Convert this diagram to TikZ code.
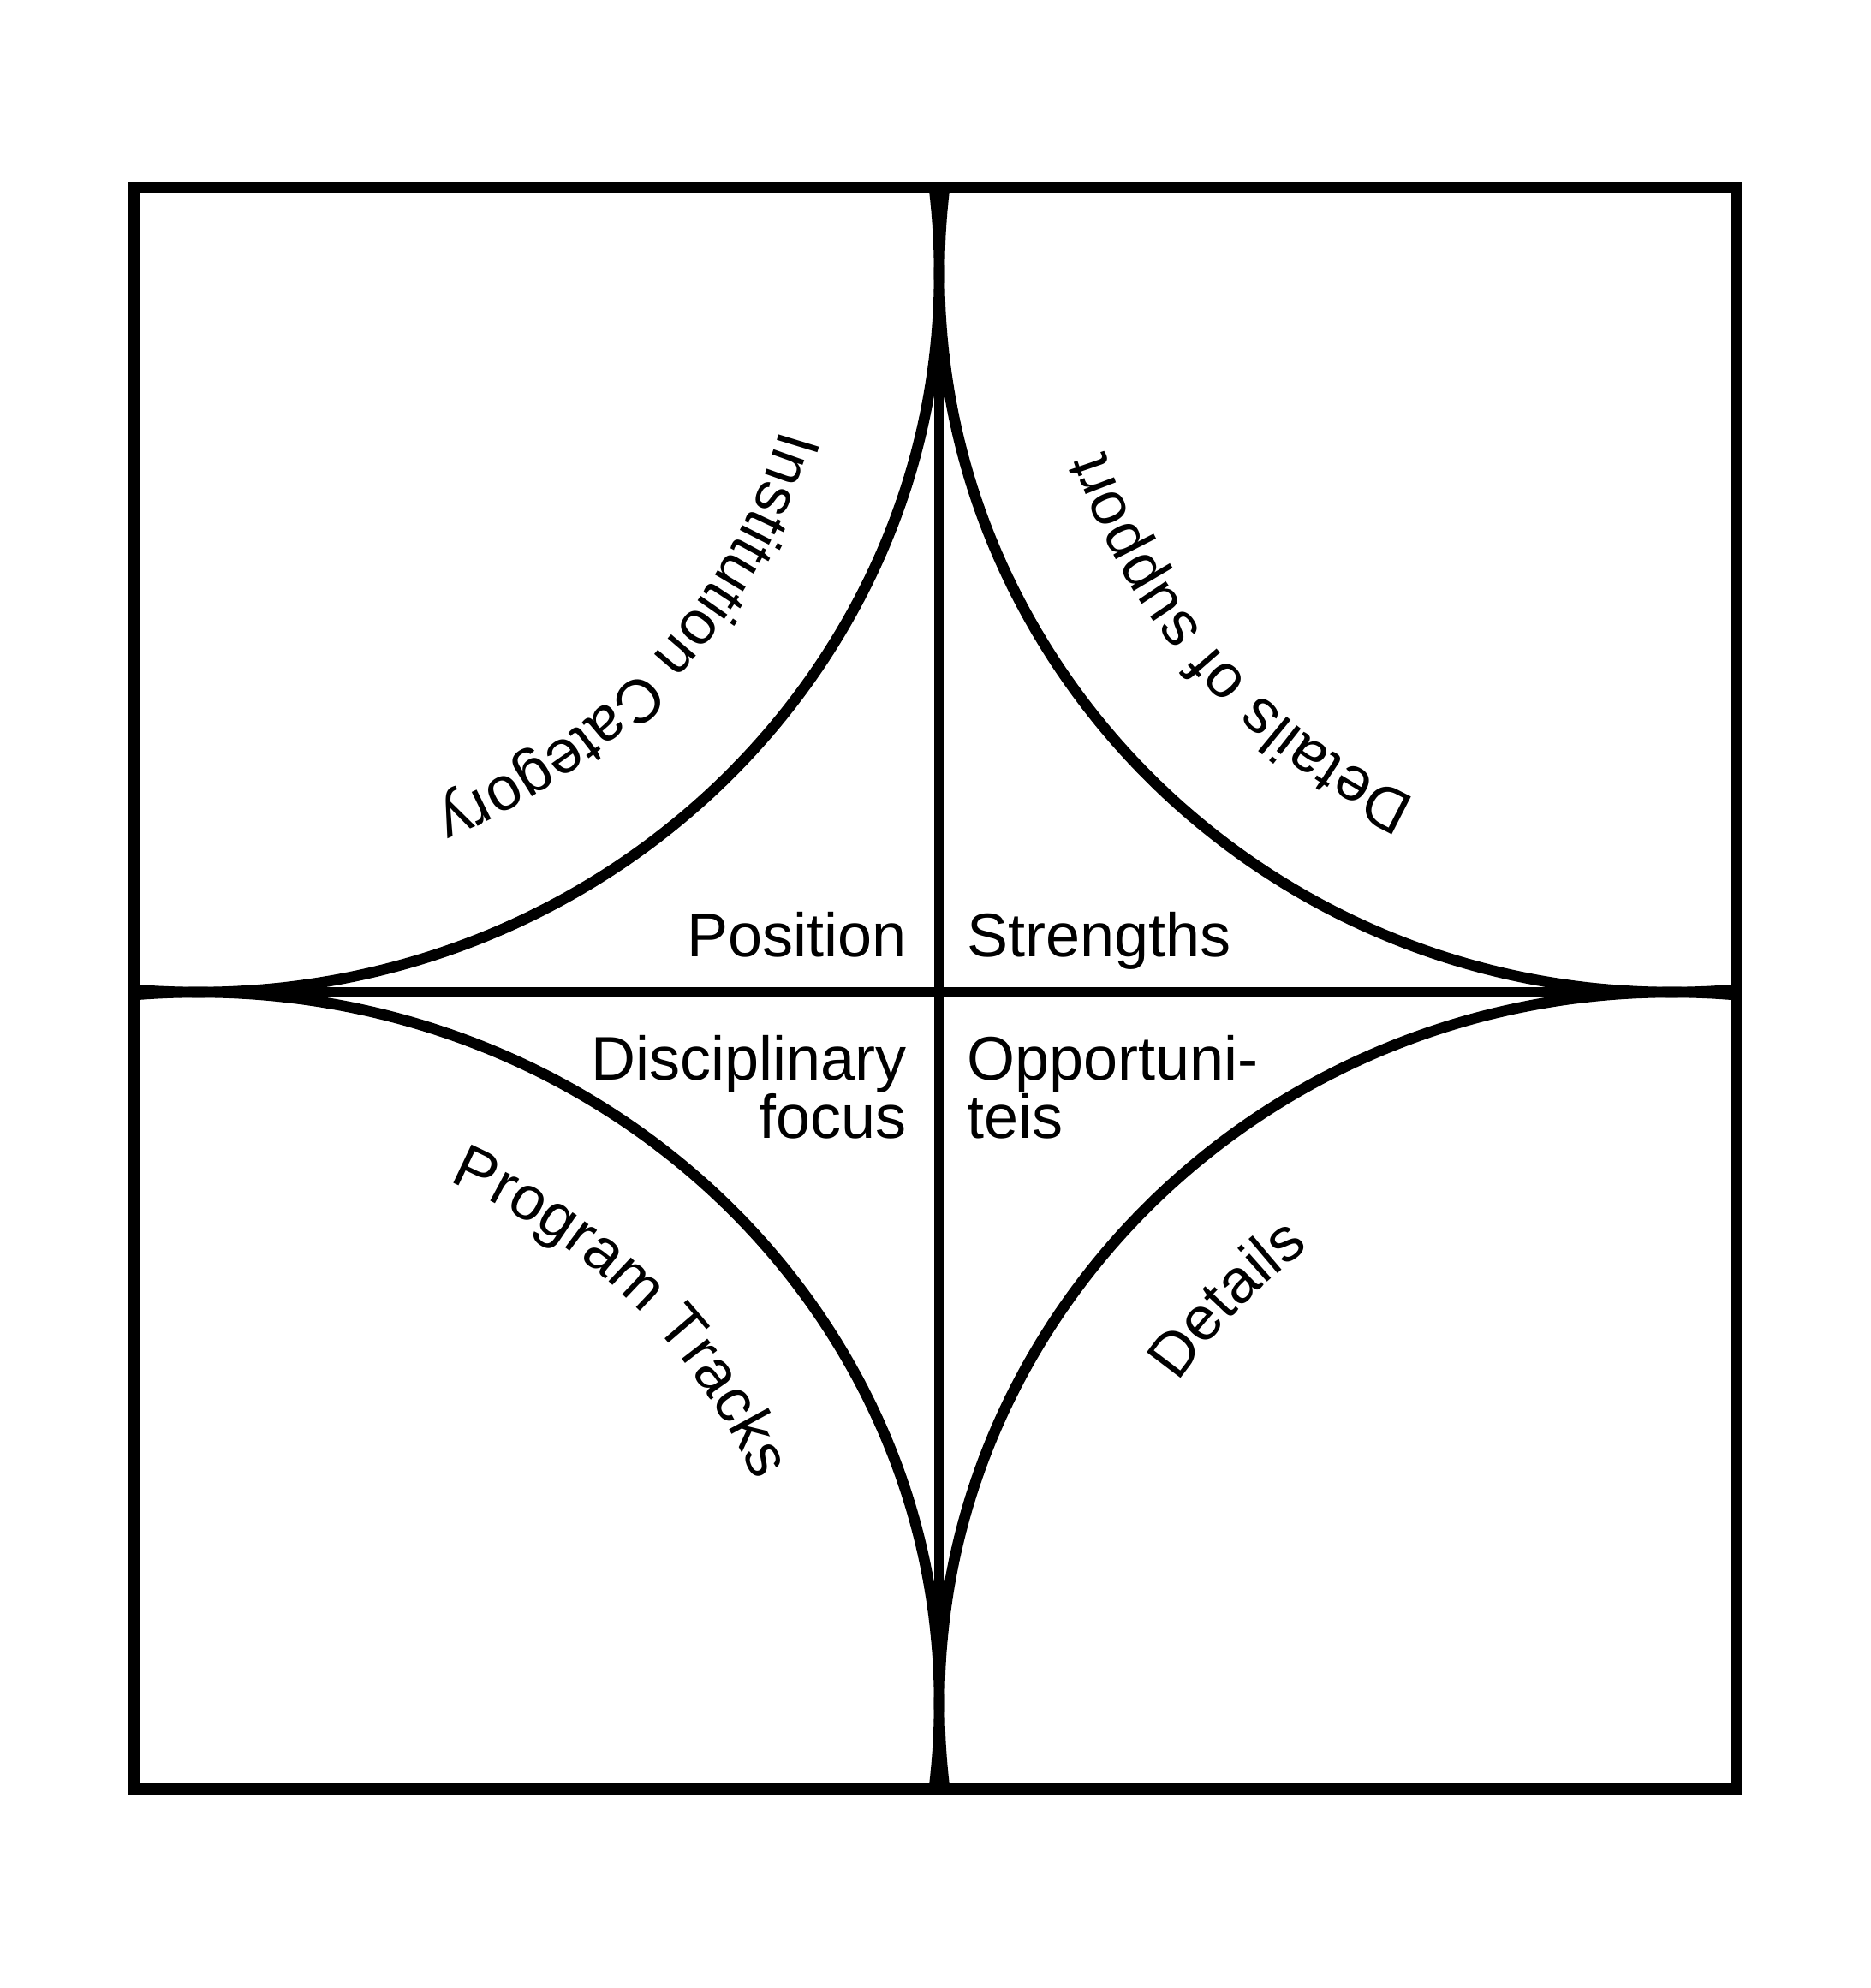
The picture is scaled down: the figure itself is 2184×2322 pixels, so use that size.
\documentclass[tikz,border=0pt]{standalone}
\usepackage{fontspec}
\setmainfont{Liberation Sans}
\usetikzlibrary{decorations.text}
\newcommand{\lblfont}{\fontsize{36}{34}\selectfont}
\begin{document}
\begin{tikzpicture}[x=0.5pt,y=0.5pt,line width=6.3pt,
  lbl/.style={font=\lblfont, inner sep=0pt},
  curvedlbl/.style={decorate, decoration={text along path, text align=center, text={|\lblfont|#1}}}]
\useasboundingbox (0,0) rectangle (2184,2322);
\fill[white] (0,0) rectangle (2184,2322);
% corners and centres
\coordinate (sw) at (156.5,232.5);
\coordinate (ne) at (2027.5,2102.5);
\coordinate (topmid) at (1097,2102.5);
\coordinate (botmid) at (1097,232.5);
\coordinate (leftmid) at (156.5,1163);
\coordinate (rightmid) at (2027.5,1163);
\coordinate (ctl) at (231.5,2002.5);
\coordinate (ctr) at (1952.5,2002.5);
\coordinate (cbl) at (231.5,332.5);
\coordinate (cbr) at (1952.5,332.5);
% arcs
\begin{scope}
\clip (sw) rectangle (ne);
\draw (ctl) ellipse [x radius=865.5, y radius=839.5];
\draw (ctr) ellipse [x radius=855.5, y radius=839.5];
\draw (cbl) ellipse [x radius=865.5, y radius=830.5];
\draw (cbr) ellipse [x radius=855.5, y radius=830.5];
\end{scope}
% dividers and frame
\draw (botmid) -- (topmid);
\draw (leftmid) -- (rightmid);
\draw (sw) rectangle (ne);
% straight labels
\node[lbl, anchor=base east] (position) at (1065,1204) {Position};
\node[lbl, anchor=base west] (strengths) at (1123,1204) {Strengths};
\node[lbl, anchor=base east, align=right] (disc) at (1065,992) {Disciplinary\\focus};
\node[lbl, anchor=base west, align=left] (opp) at (1123,992) {Opportuni-\\teis};
% curved labels
\path[curvedlbl={Institution Category}] (ctl) ++(-1:705.5 and 679.5)
  arc[start angle=-1, end angle=-81, x radius=705.5, y radius=679.5];
\path[curvedlbl={Details of support}] (ctr) ++(-99:695.5 and 679.5)
  arc[start angle=-99, end angle=-179, x radius=695.5, y radius=679.5];
\path[curvedlbl={Program Tracks}] (cbl) ++(83.7:705.5 and 670.5)
  arc[start angle=83.7, end angle=3.7, x radius=705.5, y radius=670.5];
\path[curvedlbl={Details}] (cbr) ++(177.2:695.5 and 670.5)
  arc[start angle=177.2, end angle=97.2, x radius=695.5, y radius=670.5];
\end{tikzpicture}
\end{document}
